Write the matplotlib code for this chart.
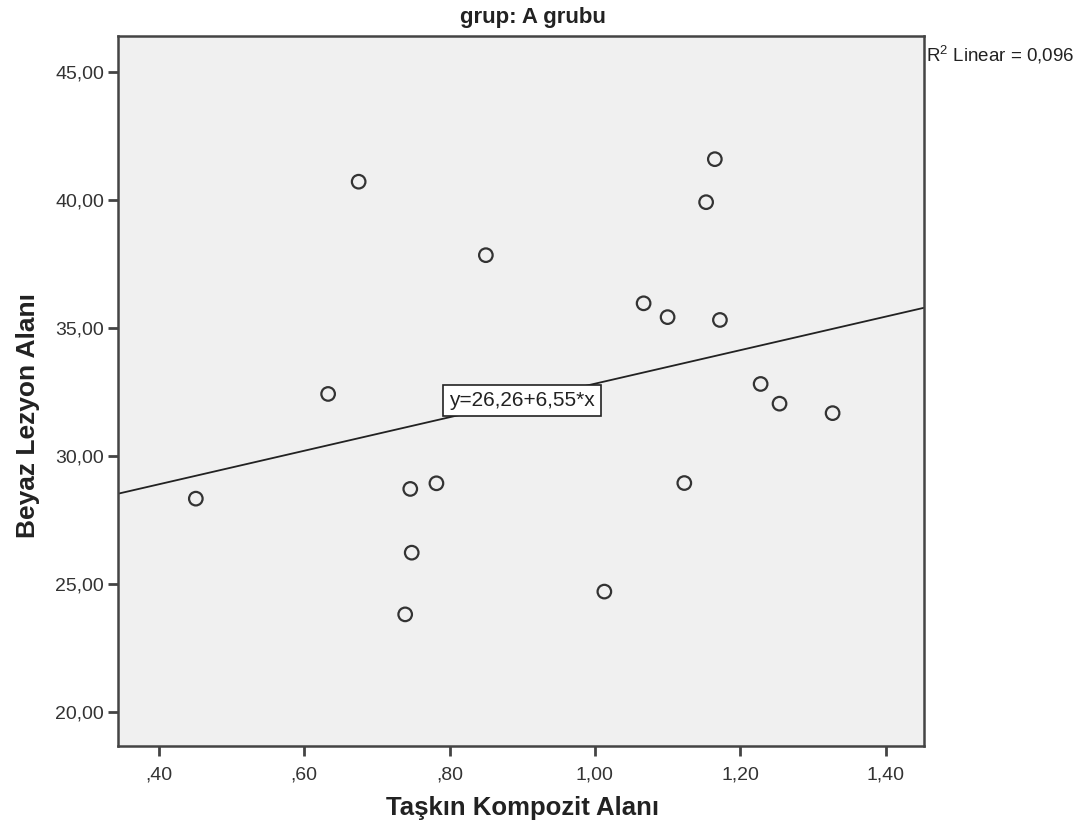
import matplotlib
matplotlib.use('Agg')
import matplotlib.pyplot as plt

# ── Data ──────────────────────────────────────────────────────────────────────
taskin_kompozit = [0.675, 0.850, 0.633, 0.451, 0.746, 0.782, 0.748, 0.739,
                   1.165, 1.153, 1.067, 1.100, 1.172, 1.228, 1.254, 1.327,
                   1.123, 1.013]
beyaz_lezyon = [40.70, 37.83, 32.41, 28.32, 28.70, 28.92, 26.21, 23.80,
                41.58, 39.90, 35.95, 35.41, 35.30, 32.80, 32.03, 31.66,
                28.93, 24.69]

fit_intercept = 26.26
fit_slope = 6.55
r2_text = 'R$^2$ Linear = 0,096'
fit_label = 'y=26,26+6,55*x'

x_ticks = [0.40, 0.60, 0.80, 1.00, 1.20, 1.40]
x_ticklabels = [',40', ',60', ',80', '1,00', '1,20', '1,40']
y_ticks = [20, 25, 30, 35, 40, 45]
y_ticklabels = ['20,00', '25,00', '30,00', '35,00', '40,00', '45,00']

# ── Style ─────────────────────────────────────────────────────────────────────
plt.rcParams['font.family'] = ['Liberation Sans', 'DejaVu Sans']
plt.rcParams['mathtext.fontset'] = 'custom'
plt.rcParams['mathtext.rm'] = 'Liberation Sans'

FRAME = '#444444'
TEXT = '#222222'
W, H = 1086, 832

fig = plt.figure(figsize=(W / 100, H / 100), dpi=100)
ax = fig.add_axes([0.1087, 0.1034, 0.7421, 0.8533])
ax.set_facecolor('#f0f0f0')

xlim = (0.344, 1.4527)
ax.set_xlim(*xlim)
ax.set_ylim(18.66, 46.39)

# regression line across the full x-range
ax.plot(list(xlim), [fit_intercept + fit_slope * v for v in xlim],
        color='#222222', lw=1.3, zorder=2)

ax.scatter(taskin_kompozit, beyaz_lezyon, s=95, facecolors='none',
           edgecolors='#333333', linewidths=1.6, zorder=3)

# equation box sitting on the line
lx = 0.8997
ax.text(lx, fit_intercept + fit_slope * lx, fit_label, fontsize=15,
        color=TEXT, ha='center', va='center', zorder=5,
        bbox=dict(boxstyle='square,pad=0.28', fc='white', ec='#222222', lw=1.2))

for side in ('top', 'right', 'left', 'bottom'):
    ax.spines[side].set_color(FRAME)
    ax.spines[side].set_linewidth(1.8)

ax.set_xticks(x_ticks)
ax.set_xticklabels(x_ticklabels)
ax.set_yticks(y_ticks)
ax.set_yticklabels(y_ticklabels)
ax.tick_params(direction='out', length=7, width=2, color=FRAME,
               labelsize=14, labelcolor='#333333', pad=3)
ax.tick_params(axis='x', pad=8)

# titles placed where the reference has them
fig.text(533 / W, 1 - 17 / H, 'grup: A grubu', fontsize=16, fontweight='bold',
         color=TEXT, ha='center', va='center')
fig.text(522 / W, 1 - 808 / H, 'Taşkın Kompozit Alanı', fontsize=18.5,
         fontweight='bold', color=TEXT, ha='center', va='center')
fig.text(28 / W, 1 - 415 / H, 'Beyaz Lezyon Alanı', fontsize=19,
         fontweight='bold', color=TEXT, ha='center', va='center', rotation=90)

fig.text(0.8527, 0.934, r2_text, fontsize=13.5, color=TEXT, ha='left', va='center')

fig.savefig('out.png', dpi=100, facecolor='white')
